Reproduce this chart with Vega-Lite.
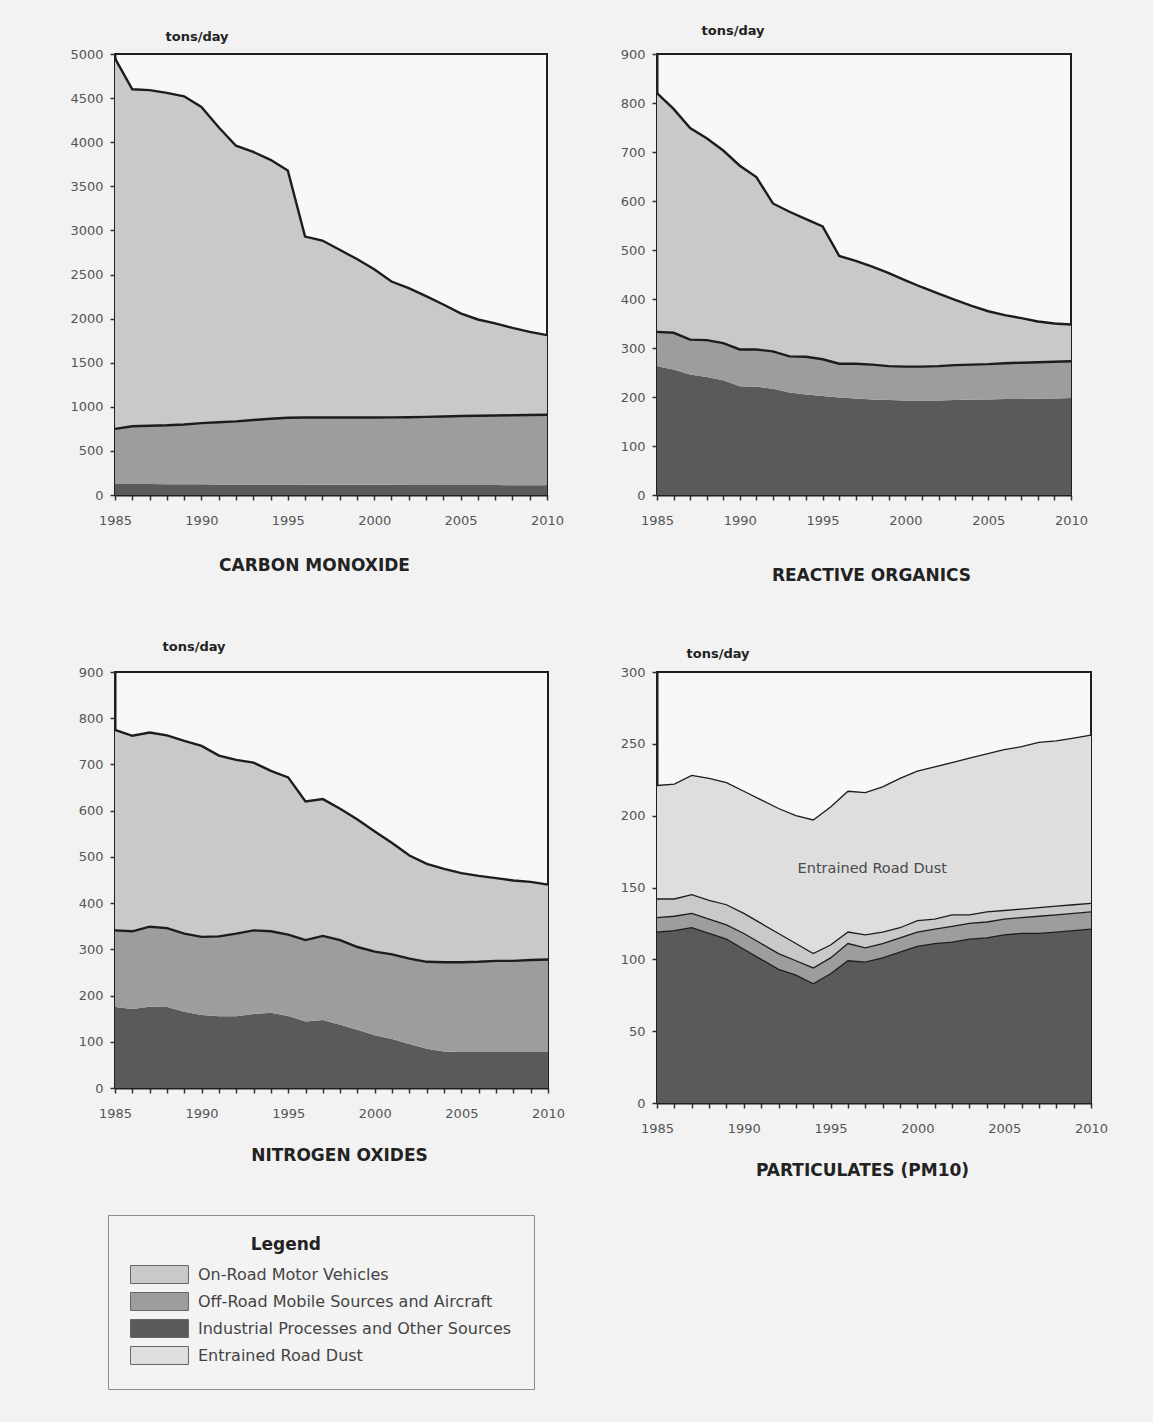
{
  "$schema": "https://vega.github.io/schema/vega-lite/v6.json",
  "background": "#f2f2f2",
  "padding": {"left": 68, "top": 23, "right": 50, "bottom": 50},
  "datasets": {
    "sources": [
      {"code": "on", "source": "On-Road Motor Vehicles", "stack": 3},
      {"code": "off", "source": "Off-Road Mobile Sources and Aircraft", "stack": 2},
      {"code": "ind", "source": "Industrial Processes and Other Sources", "stack": 1},
      {"code": "dust", "source": "Entrained Road Dust", "stack": 4}
    ],
    "emis": [
      {"p": "CO", "year": 1985, "ind": 125, "off": 625, "on": 4200},
      {"p": "CO", "year": 1986, "ind": 125, "off": 655, "on": 3820},
      {"p": "CO", "year": 1987, "ind": 124, "off": 661, "on": 3805},
      {"p": "CO", "year": 1988, "ind": 123, "off": 667, "on": 3770},
      {"p": "CO", "year": 1989, "ind": 122, "off": 678, "on": 3720},
      {"p": "CO", "year": 1990, "ind": 121, "off": 694, "on": 3585},
      {"p": "CO", "year": 1991, "ind": 120, "off": 705, "on": 3345},
      {"p": "CO", "year": 1992, "ind": 120, "off": 715, "on": 3125},
      {"p": "CO", "year": 1993, "ind": 119, "off": 731, "on": 3040},
      {"p": "CO", "year": 1994, "ind": 118, "off": 747, "on": 2935},
      {"p": "CO", "year": 1995, "ind": 118, "off": 758, "on": 2804},
      {"p": "CO", "year": 1996, "ind": 117, "off": 761, "on": 2052},
      {"p": "CO", "year": 1997, "ind": 117, "off": 761, "on": 2007},
      {"p": "CO", "year": 1998, "ind": 116, "off": 762, "on": 1902},
      {"p": "CO", "year": 1999, "ind": 116, "off": 762, "on": 1797},
      {"p": "CO", "year": 2000, "ind": 115, "off": 763, "on": 1682},
      {"p": "CO", "year": 2001, "ind": 115, "off": 765, "on": 1540},
      {"p": "CO", "year": 2002, "ind": 114, "off": 768, "on": 1463},
      {"p": "CO", "year": 2003, "ind": 114, "off": 772, "on": 1369},
      {"p": "CO", "year": 2004, "ind": 113, "off": 777, "on": 1270},
      {"p": "CO", "year": 2005, "ind": 113, "off": 782, "on": 1165},
      {"p": "CO", "year": 2006, "ind": 112, "off": 786, "on": 1092},
      {"p": "CO", "year": 2007, "ind": 112, "off": 789, "on": 1044},
      {"p": "CO", "year": 2008, "ind": 111, "off": 793, "on": 991},
      {"p": "CO", "year": 2009, "ind": 111, "off": 796, "on": 943},
      {"p": "CO", "year": 2010, "ind": 110, "off": 800, "on": 902},
      {"p": "ROG", "year": 1985, "ind": 263, "off": 70, "on": 487},
      {"p": "ROG", "year": 1986, "ind": 256, "off": 75, "on": 457},
      {"p": "ROG", "year": 1987, "ind": 246, "off": 71, "on": 432},
      {"p": "ROG", "year": 1988, "ind": 241, "off": 75, "on": 412},
      {"p": "ROG", "year": 1989, "ind": 234, "off": 76, "on": 393},
      {"p": "ROG", "year": 1990, "ind": 222, "off": 75, "on": 375},
      {"p": "ROG", "year": 1991, "ind": 221, "off": 76, "on": 352},
      {"p": "ROG", "year": 1992, "ind": 217, "off": 76, "on": 302},
      {"p": "ROG", "year": 1993, "ind": 209, "off": 74, "on": 295},
      {"p": "ROG", "year": 1994, "ind": 205, "off": 77, "on": 281},
      {"p": "ROG", "year": 1995, "ind": 202, "off": 75, "on": 271},
      {"p": "ROG", "year": 1996, "ind": 199, "off": 69, "on": 220},
      {"p": "ROG", "year": 1997, "ind": 197, "off": 71, "on": 210},
      {"p": "ROG", "year": 1998, "ind": 195, "off": 71, "on": 200},
      {"p": "ROG", "year": 1999, "ind": 194, "off": 69, "on": 190},
      {"p": "ROG", "year": 2000, "ind": 193, "off": 69, "on": 176},
      {"p": "ROG", "year": 2001, "ind": 193, "off": 69, "on": 162},
      {"p": "ROG", "year": 2002, "ind": 193, "off": 70, "on": 148},
      {"p": "ROG", "year": 2003, "ind": 194, "off": 71, "on": 133},
      {"p": "ROG", "year": 2004, "ind": 195, "off": 71, "on": 120},
      {"p": "ROG", "year": 2005, "ind": 195, "off": 72, "on": 108},
      {"p": "ROG", "year": 2006, "ind": 196, "off": 73, "on": 98},
      {"p": "ROG", "year": 2007, "ind": 196, "off": 74, "on": 91},
      {"p": "ROG", "year": 2008, "ind": 197, "off": 74, "on": 83},
      {"p": "ROG", "year": 2009, "ind": 197, "off": 75, "on": 78},
      {"p": "ROG", "year": 2010, "ind": 198, "off": 75, "on": 75},
      {"p": "NOx", "year": 1985, "ind": 175, "off": 166, "on": 434},
      {"p": "NOx", "year": 1986, "ind": 171, "off": 168, "on": 423},
      {"p": "NOx", "year": 1987, "ind": 176, "off": 173, "on": 420},
      {"p": "NOx", "year": 1988, "ind": 175, "off": 171, "on": 417},
      {"p": "NOx", "year": 1989, "ind": 165, "off": 169, "on": 417},
      {"p": "NOx", "year": 1990, "ind": 158, "off": 169, "on": 413},
      {"p": "NOx", "year": 1991, "ind": 155, "off": 173, "on": 391},
      {"p": "NOx", "year": 1992, "ind": 155, "off": 179, "on": 376},
      {"p": "NOx", "year": 1993, "ind": 160, "off": 181, "on": 363},
      {"p": "NOx", "year": 1994, "ind": 163, "off": 176, "on": 347},
      {"p": "NOx", "year": 1995, "ind": 156, "off": 176, "on": 340},
      {"p": "NOx", "year": 1996, "ind": 144, "off": 176, "on": 300},
      {"p": "NOx", "year": 1997, "ind": 147, "off": 182, "on": 296},
      {"p": "NOx", "year": 1998, "ind": 137, "off": 183, "on": 284},
      {"p": "NOx", "year": 1999, "ind": 126, "off": 179, "on": 276},
      {"p": "NOx", "year": 2000, "ind": 114, "off": 181, "on": 260},
      {"p": "NOx", "year": 2001, "ind": 106, "off": 183, "on": 241},
      {"p": "NOx", "year": 2002, "ind": 95, "off": 185, "on": 223},
      {"p": "NOx", "year": 2003, "ind": 85, "off": 188, "on": 212},
      {"p": "NOx", "year": 2004, "ind": 79, "off": 193, "on": 202},
      {"p": "NOx", "year": 2005, "ind": 78, "off": 194, "on": 193},
      {"p": "NOx", "year": 2006, "ind": 78, "off": 195, "on": 186},
      {"p": "NOx", "year": 2007, "ind": 78, "off": 197, "on": 179},
      {"p": "NOx", "year": 2008, "ind": 78, "off": 197, "on": 174},
      {"p": "NOx", "year": 2009, "ind": 78, "off": 199, "on": 169},
      {"p": "NOx", "year": 2010, "ind": 78, "off": 200, "on": 162},
      {"p": "PM10", "year": 1985, "ind": 119, "off": 10, "on": 13, "dust": 79},
      {"p": "PM10", "year": 1986, "ind": 120, "off": 10, "on": 12, "dust": 80},
      {"p": "PM10", "year": 1987, "ind": 122, "off": 10, "on": 13, "dust": 83},
      {"p": "PM10", "year": 1988, "ind": 118, "off": 10, "on": 13, "dust": 85},
      {"p": "PM10", "year": 1989, "ind": 114, "off": 10, "on": 14, "dust": 85},
      {"p": "PM10", "year": 1990, "ind": 107, "off": 11, "on": 14, "dust": 85},
      {"p": "PM10", "year": 1991, "ind": 100, "off": 11, "on": 14, "dust": 86},
      {"p": "PM10", "year": 1992, "ind": 93, "off": 11, "on": 14, "dust": 87},
      {"p": "PM10", "year": 1993, "ind": 89, "off": 10, "on": 12, "dust": 89},
      {"p": "PM10", "year": 1994, "ind": 83, "off": 11, "on": 10, "dust": 93},
      {"p": "PM10", "year": 1995, "ind": 90, "off": 11, "on": 9, "dust": 96},
      {"p": "PM10", "year": 1996, "ind": 99, "off": 12, "on": 8, "dust": 98},
      {"p": "PM10", "year": 1997, "ind": 98, "off": 10, "on": 9, "dust": 99},
      {"p": "PM10", "year": 1998, "ind": 101, "off": 10, "on": 8, "dust": 101},
      {"p": "PM10", "year": 1999, "ind": 105, "off": 10, "on": 7, "dust": 104},
      {"p": "PM10", "year": 2000, "ind": 109, "off": 10, "on": 8, "dust": 104},
      {"p": "PM10", "year": 2001, "ind": 111, "off": 10, "on": 7, "dust": 106},
      {"p": "PM10", "year": 2002, "ind": 112, "off": 11, "on": 8, "dust": 106},
      {"p": "PM10", "year": 2003, "ind": 114, "off": 11, "on": 6, "dust": 109},
      {"p": "PM10", "year": 2004, "ind": 115, "off": 11, "on": 7, "dust": 110},
      {"p": "PM10", "year": 2005, "ind": 117, "off": 11, "on": 6, "dust": 112},
      {"p": "PM10", "year": 2006, "ind": 118, "off": 11, "on": 6, "dust": 113},
      {"p": "PM10", "year": 2007, "ind": 118, "off": 12, "on": 6, "dust": 115},
      {"p": "PM10", "year": 2008, "ind": 119, "off": 12, "on": 6, "dust": 115},
      {"p": "PM10", "year": 2009, "ind": 120, "off": 12, "on": 6, "dust": 116},
      {"p": "PM10", "year": 2010, "ind": 121, "off": 12, "on": 6, "dust": 117}
    ]
  },
  "config": {
    "font": "DejaVu Sans",
    "view": {"stroke": "#1e1e1e", "strokeWidth": 2, "fill": "#f8f8f8"},
    "axis": {
      "grid": false,
      "domainColor": "#1e1e1e",
      "domainWidth": 2,
      "tickColor": "#333333",
      "tickWidth": 1.5,
      "tickSize": 5,
      "labelFont": "DejaVu Sans",
      "labelFontSize": 13,
      "labelColor": "#555555",
      "titleFont": "DejaVu Sans",
      "titleColor": "#222222"
    },
    "legend": {
      "orient": "none", "legendX": -7, "legendY": 1161, "direction": "vertical",
      "symbolType": "M-1,-1H5.44V1H-1Z", "symbolSize": 324, "symbolStrokeColor": "#666666", "symbolStrokeWidth": 1, "symbolOpacity": 1,
      "labelFont": "DejaVu Sans", "labelFontSize": 16, "labelColor": "#444444", "labelOffset": 49, "labelLimit": 600,
      "titleFont": "DejaVu Sans", "titleFontSize": 17, "titleFontWeight": "bold", "titleColor": "#222222", "titleAnchor": "middle", "titleAlign": "right", "titlePadding": 11,
      "rowPadding": 4, "padding": 22, "strokeColor": "#8c8c8c", "fillColor": "#f3f3f3"
    }
  },
  "resolve": {"scale": {"fill": "shared"}, "legend": {"fill": "shared"}},
  "bounds": "flush",
  "columns": 2,
  "spacing": {"row": 177, "column": 109},
  "concat": [
    {
      "width": 432,
      "height": 441,
      "data": {"name": "emis"},
      "transform": [
        {"filter": "datum.p === 'CO'"},
        {"fold": ["ind", "off", "on"], "as": ["code", "tons"]},
        {"lookup": "code", "from": {"data": {"name": "sources"}, "key": "code", "fields": ["source", "stack"]}},
        {"stack": "tons", "groupby": ["year"], "sort": [{"field": "stack", "order": "ascending"}], "as": ["y0", "y1"]}
      ],
      "encoding": {
        "x": {"field": "year", "type": "quantitative", "scale": {"domain": [1985, 2010], "nice": false, "zero": false},
          "axis": {"values": [1985,1986,1987,1988,1989,1990,1991,1992,1993,1994,1995,1996,1997,1998,1999,2000,2001,2002,2003,2004,2005,2006,2007,2008,2009,2010], "format": "d", "labelExpr": "datum.value % 5 === 0 ? datum.label : ''", "labelPadding": 14, "labelFlush": false, "labelOverlap": false,
            "title": "CARBON MONOXIDE", "titleFontSize": 17, "titleFontWeight": "bold", "titleX": 199, "titleY": 70, "titleBaseline": "middle", "titleAlign": "center"}},
        "y": {"field": "y1", "type": "quantitative", "scale": {"domain": [0, 5000], "nice": false},
          "axis": {"values": [0,500,1000,1500,2000,2500,3000,3500,4000,4500,5000], "format": "d", "labelPadding": 7,
            "title": "tons/day", "titleAngle": 0, "titleFontSize": 13, "titleFontWeight": "bold", "titleX": 50, "titleY": -14, "titleAlign": "left", "titleBaseline": "alphabetic"}}
      },
      "layer": [
        {
          "mark": {"type": "area", "opacity": 1},
          "encoding": {
            "y2": {"field": "y0"},
            "fill": {"field": "source", "type": "nominal", "legend": {"title": "Legend"},
              "scale": {"domain": ["On-Road Motor Vehicles", "Off-Road Mobile Sources and Aircraft", "Industrial Processes and Other Sources", "Entrained Road Dust"], "range": ["#c9c9c9", "#9d9d9d", "#5a5a5a", "#dedede"]}}
          }
        },
        {
          "transform": [{"filter": "datum.code !== 'ind'"}],
          "mark": {"type": "line", "stroke": "#1c1c1c", "strokeWidth": 2.4},
          "encoding": {"detail": {"field": "code"}}
        }
      ]
    },
    {
      "width": 414,
      "height": 441,
      "data": {"name": "emis"},
      "transform": [
        {"filter": "datum.p === 'ROG'"},
        {"fold": ["ind", "off", "on"], "as": ["code", "tons"]},
        {"lookup": "code", "from": {"data": {"name": "sources"}, "key": "code", "fields": ["source", "stack"]}},
        {"stack": "tons", "groupby": ["year"], "sort": [{"field": "stack", "order": "ascending"}], "as": ["y0", "y1"]}
      ],
      "encoding": {
        "x": {"field": "year", "type": "quantitative", "scale": {"domain": [1985, 2010], "nice": false, "zero": false},
          "axis": {"values": [1985,1986,1987,1988,1989,1990,1991,1992,1993,1994,1995,1996,1997,1998,1999,2000,2001,2002,2003,2004,2005,2006,2007,2008,2009,2010], "format": "d", "labelExpr": "datum.value % 5 === 0 ? datum.label : ''", "labelPadding": 14, "labelFlush": false, "labelOverlap": false,
            "title": "REACTIVE ORGANICS", "titleFontSize": 17, "titleFontWeight": "bold", "titleX": 214, "titleY": 80, "titleBaseline": "middle", "titleAlign": "center"}},
        "y": {"field": "y1", "type": "quantitative", "scale": {"domain": [0, 900], "nice": false},
          "axis": {"values": [0,100,200,300,400,500,600,700,800,900], "format": "d", "labelPadding": 7,
            "title": "tons/day", "titleAngle": 0, "titleFontSize": 13, "titleFontWeight": "bold", "titleX": 44, "titleY": -20, "titleAlign": "left", "titleBaseline": "alphabetic"}}
      },
      "layer": [
        {
          "mark": {"type": "area", "opacity": 1},
          "encoding": {
            "y2": {"field": "y0"},
            "fill": {"field": "source", "type": "nominal", "legend": {"title": "Legend"},
              "scale": {"domain": ["On-Road Motor Vehicles", "Off-Road Mobile Sources and Aircraft", "Industrial Processes and Other Sources", "Entrained Road Dust"], "range": ["#c9c9c9", "#9d9d9d", "#5a5a5a", "#dedede"]}}
          }
        },
        {
          "transform": [{"filter": "datum.code !== 'ind'"}],
          "mark": {"type": "line", "stroke": "#1c1c1c", "strokeWidth": 2.4},
          "encoding": {"detail": {"field": "code"}}
        }
      ]
    },
    {
      "width": 433,
      "height": 416,
      "data": {"name": "emis"},
      "transform": [
        {"filter": "datum.p === 'NOx'"},
        {"fold": ["ind", "off", "on"], "as": ["code", "tons"]},
        {"lookup": "code", "from": {"data": {"name": "sources"}, "key": "code", "fields": ["source", "stack"]}},
        {"stack": "tons", "groupby": ["year"], "sort": [{"field": "stack", "order": "ascending"}], "as": ["y0", "y1"]}
      ],
      "encoding": {
        "x": {"field": "year", "type": "quantitative", "scale": {"domain": [1985, 2010], "nice": false, "zero": false},
          "axis": {"values": [1985,1986,1987,1988,1989,1990,1991,1992,1993,1994,1995,1996,1997,1998,1999,2000,2001,2002,2003,2004,2005,2006,2007,2008,2009,2010], "format": "d", "labelExpr": "datum.value % 5 === 0 ? datum.label : ''", "labelPadding": 14, "labelFlush": false, "labelOverlap": false,
            "title": "NITROGEN OXIDES", "titleFontSize": 17, "titleFontWeight": "bold", "titleX": 224, "titleY": 67, "titleBaseline": "middle", "titleAlign": "center"}},
        "y": {"field": "y1", "type": "quantitative", "scale": {"domain": [0, 900], "nice": false},
          "axis": {"values": [0,100,200,300,400,500,600,700,800,900], "format": "d", "labelPadding": 7,
            "title": "tons/day", "titleAngle": 0, "titleFontSize": 13, "titleFontWeight": "bold", "titleX": 47, "titleY": -22, "titleAlign": "left", "titleBaseline": "alphabetic"}}
      },
      "layer": [
        {
          "mark": {"type": "area", "opacity": 1},
          "encoding": {
            "y2": {"field": "y0"},
            "fill": {"field": "source", "type": "nominal", "legend": {"title": "Legend"},
              "scale": {"domain": ["On-Road Motor Vehicles", "Off-Road Mobile Sources and Aircraft", "Industrial Processes and Other Sources", "Entrained Road Dust"], "range": ["#c9c9c9", "#9d9d9d", "#5a5a5a", "#dedede"]}}
          }
        },
        {
          "transform": [{"filter": "datum.code !== 'ind'"}],
          "mark": {"type": "line", "stroke": "#1c1c1c", "strokeWidth": 2.4},
          "encoding": {"detail": {"field": "code"}}
        }
      ]
    },
    {
      "width": 434,
      "height": 431,
      "data": {"name": "emis"},
      "transform": [
        {"filter": "datum.p === 'PM10'"},
        {"fold": ["ind", "off", "on", "dust"], "as": ["code", "tons"]},
        {"lookup": "code", "from": {"data": {"name": "sources"}, "key": "code", "fields": ["source", "stack"]}},
        {"stack": "tons", "groupby": ["year"], "sort": [{"field": "stack", "order": "ascending"}], "as": ["y0", "y1"]}
      ],
      "encoding": {
        "x": {"field": "year", "type": "quantitative", "scale": {"domain": [1985, 2010], "nice": false, "zero": false},
          "axis": {"values": [1985,1986,1987,1988,1989,1990,1991,1992,1993,1994,1995,1996,1997,1998,1999,2000,2001,2002,2003,2004,2005,2006,2007,2008,2009,2010], "format": "d", "labelExpr": "datum.value % 5 === 0 ? datum.label : ''", "labelPadding": 14, "labelFlush": false, "labelOverlap": false,
            "title": "PARTICULATES (PM10)", "titleFontSize": 17, "titleFontWeight": "bold", "titleX": 205, "titleY": 67, "titleBaseline": "middle", "titleAlign": "center"}},
        "y": {"field": "y1", "type": "quantitative", "scale": {"domain": [0, 300], "nice": false},
          "axis": {"values": [0,50,100,150,200,250,300], "format": "d", "labelPadding": 7,
            "title": "tons/day", "titleAngle": 0, "titleFontSize": 13, "titleFontWeight": "bold", "titleX": 29, "titleY": -15, "titleAlign": "left", "titleBaseline": "alphabetic"}}
      },
      "layer": [
        {
          "mark": {"type": "area", "opacity": 1},
          "encoding": {
            "y2": {"field": "y0"},
            "fill": {"field": "source", "type": "nominal", "legend": {"title": "Legend"},
              "scale": {"domain": ["On-Road Motor Vehicles", "Off-Road Mobile Sources and Aircraft", "Industrial Processes and Other Sources", "Entrained Road Dust"], "range": ["#c9c9c9", "#9d9d9d", "#5a5a5a", "#dedede"]}}
          }
        },
        {
          "mark": {"type": "line", "stroke": "#1c1c1c", "strokeWidth": 1.3},
          "encoding": {"detail": {"field": "code"}}
        },
        {
          "data": {"values": [{"label": "Entrained Road Dust", "year": 1997.4, "tons": 163}]},
          "mark": {"type": "text", "font": "DejaVu Sans", "fontSize": 14.5, "color": "#4a4a4a", "align": "center", "baseline": "middle"},
          "encoding": {"y": {"field": "tons", "type": "quantitative"}, "text": {"field": "label"}}
        }
      ]
    }
  ]
}
